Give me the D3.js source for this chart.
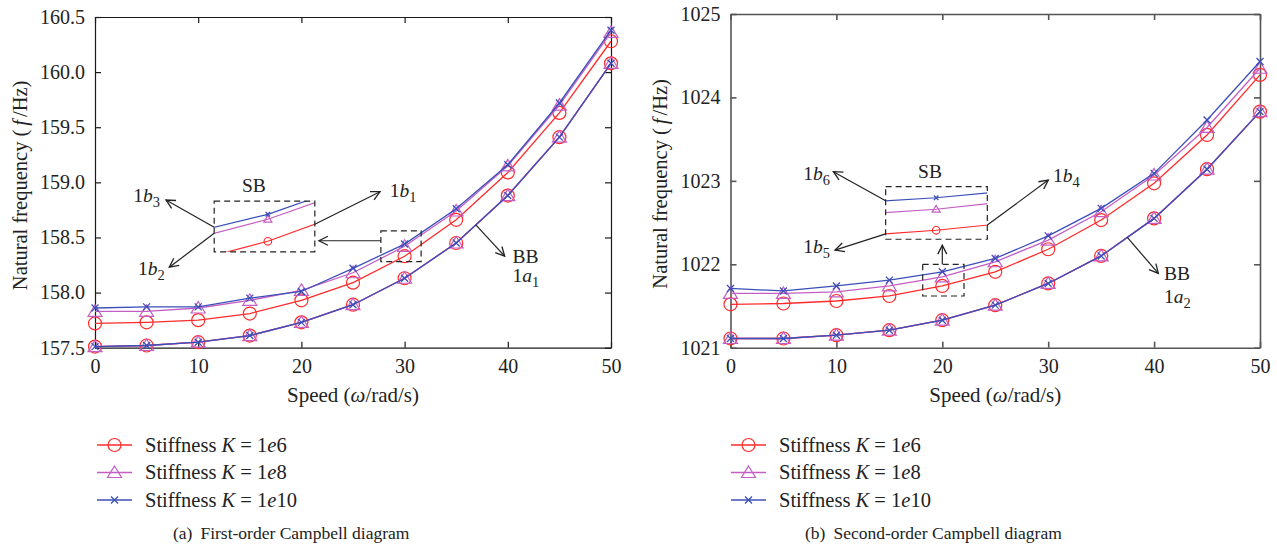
<!DOCTYPE html>
<html>
<head>
<meta charset="utf-8">
<script src="https://cdn.jsdelivr.net/npm/d3@7"></script>
<style>
body { margin: 0; background: #fff; }
svg text { font-family: "Liberation Serif", "Times New Roman", serif; fill: #222; }
</style>
</head>
<body>
<svg id="chart" width="1277" height="550"></svg>
<script>
// speed values (rad/s)
var speed = [0, 5, 10, 15, 20, 25, 30, 35, 40, 45, 50];
var xTicks = [0, 10, 20, 30, 40, 50];

// first-order: upper branch (SB, 1b) and lower branch (BB, 1a)
var first_b_k6  = [157.72, 157.73, 157.75, 157.81, 157.93, 158.09, 158.33, 158.66, 159.09, 159.63, 160.28];
var first_b_k8  = [157.83, 157.83, 157.86, 157.93, 158.02, 158.18, 158.42, 158.74, 159.15, 159.70, 160.36];
var first_b_k10 = [157.86, 157.87, 157.87, 157.95, 158.01, 158.22, 158.44, 158.76, 159.16, 159.72, 160.38];
var first_a_k6  = [157.51, 157.52, 157.55, 157.61, 157.73, 157.89, 158.13, 158.45, 158.88, 159.41, 160.08];
var first_a_k8  = [157.51, 157.52, 157.55, 157.61, 157.73, 157.89, 158.13, 158.45, 158.88, 159.41, 160.08];
var first_a_k10 = [157.51, 157.52, 157.55, 157.61, 157.73, 157.89, 158.13, 158.45, 158.88, 159.41, 160.08];
var first_yTicks = [157.5, 158.0, 158.5, 159.0, 159.5, 160.0, 160.5];

// second-order
var second_b_k6  = [1021.52, 1021.53, 1021.56, 1021.62, 1021.74, 1021.91, 1022.18, 1022.53, 1022.97, 1023.55, 1024.27];
var second_b_k8  = [1021.65, 1021.65, 1021.67, 1021.74, 1021.85, 1022.03, 1022.29, 1022.63, 1023.07, 1023.64, 1024.35];
var second_b_k10 = [1021.71, 1021.68, 1021.74, 1021.81, 1021.91, 1022.07, 1022.34, 1022.67, 1023.09, 1023.73, 1024.43];
var second_a_k6  = [1021.11, 1021.11, 1021.15, 1021.21, 1021.33, 1021.51, 1021.77, 1022.10, 1022.55, 1023.14, 1023.83];
var second_a_k8  = [1021.11, 1021.11, 1021.15, 1021.21, 1021.33, 1021.51, 1021.77, 1022.10, 1022.55, 1023.14, 1023.83];
var second_a_k10 = [1021.11, 1021.11, 1021.15, 1021.21, 1021.33, 1021.51, 1021.77, 1022.10, 1022.55, 1023.14, 1023.83];
var second_yTicks = [1021, 1022, 1023, 1024, 1025];

var stiffness = ['1e6', '1e8', '1e10'];
var colors = ['#ff2b2b', '#c45ec4', '#3b4fb8'];
var markers = ['circle', 'triangle', 'cross'];

var svg = d3.select('#chart');

// open arrow head
svg.append('defs').append('marker')
    .attr('id', 'arrow')
    .attr('viewBox', '-10 -6 12 12')
    .attr('markerUnits', 'userSpaceOnUse')
    .attr('markerWidth', 12).attr('markerHeight', 12)
    .attr('refX', 0).attr('refY', 0)
    .attr('orient', 'auto')
    .append('path')
    .attr('d', 'M-9,-4.5L0,0L-9,4.5')
    .attr('fill', 'none').attr('stroke', '#222').attr('stroke-width', 1.3);

function interp(xs, ys, xv) {
    for (var i = 0; i < xs.length - 1; i++) {
        if (xv >= xs[i] && xv <= xs[i + 1]) {
            var t = (xv - xs[i]) / (xs[i + 1] - xs[i]);
            return ys[i] + t * (ys[i + 1] - ys[i]);
        }
    }
    return ys[ys.length - 1];
}

function drawMarker(g, type, color, px, py, s) {
    if (type === 'circle') {
        g.append('circle').attr('cx', px).attr('cy', py).attr('r', 6.5 * s)
            .attr('fill', 'none').attr('stroke', color).attr('stroke-width', 1.2);
    } else if (type === 'triangle') {
        g.append('path')
            .attr('d', 'M' + px + ',' + (py - 6.5 * s) + 'L' + (px + 7 * s) + ',' + (py + 5 * s) +
                'L' + (px - 7 * s) + ',' + (py + 5 * s) + 'Z')
            .attr('fill', 'none').attr('stroke', color).attr('stroke-width', 1.2);
    } else {
        var d = 3 * s + 0.5;
        g.append('path')
            .attr('d', 'M' + (px - d) + ',' + (py - d) + 'L' + (px + d) + ',' + (py + d) +
                'M' + (px - d) + ',' + (py + d) + 'L' + (px + d) + ',' + (py - d))
            .attr('fill', 'none').attr('stroke', color).attr('stroke-width', 1.3);
    }
}

// text made of pieces: plain, italic, subscript
function richText(g, px, py, parts, anchor, size) {
    var t = g.append('text').attr('x', px).attr('y', py)
        .attr('text-anchor', anchor || 'start')
        .style('font-size', (size || 19.5) + 'px');
    parts.forEach(function(p) {
        var s = t.append('tspan').text(p.t);
        if (p.i) s.style('font-style', 'italic');
        if (p.sub) s.attr('dy', 5).style('font-size', '0.74em');
        if (p.dx) s.attr('dx', p.dx);
    });
    return t;
}

function arrow(g, x1, y1, x2, y2) {
    g.append('line').attr('x1', x1).attr('y1', y1).attr('x2', x2).attr('y2', y2)
        .attr('stroke', '#222').attr('stroke-width', 1.2)
        .attr('marker-end', 'url(#arrow)');
}

function dashBox(g, x0, y0, x1, y1) {
    g.append('rect').attr('x', x0).attr('y', y0)
        .attr('width', x1 - x0).attr('height', y1 - y0)
        .attr('fill', 'none').attr('stroke', '#222')
        .attr('stroke-width', 1.2).attr('stroke-dasharray', '6,4');
}

function panel(cfg) {
    var g = svg.append('g');
    var x = d3.scaleLinear().domain([0, 50]).range([cfg.l, cfg.r]);
    var y = d3.scaleLinear().domain(cfg.yDomain).range([cfg.b, cfg.t]);

    // axes with inward ticks on all four sides
    var axes = [
        {ax: d3.axisBottom(x).tickValues(xTicks).tickPadding(11), tr: 'translate(0,' + cfg.b + ')'},
        {ax: d3.axisTop(x).tickValues(xTicks).tickFormat(''), tr: 'translate(0,' + cfg.t + ')'},
        {ax: d3.axisLeft(y).tickValues(cfg.yTicks).tickFormat(cfg.fmt).tickPadding(10), tr: 'translate(' + cfg.l + ',0)'},
        {ax: d3.axisRight(y).tickValues(cfg.yTicks).tickFormat(''), tr: 'translate(' + cfg.r + ',0)'}
    ];
    axes.forEach(function(a) {
        var ag = g.append('g').attr('transform', a.tr)
            .call(a.ax.tickSizeInner(-6).tickSizeOuter(0));
        ag.attr('font-family', null).attr('font-size', null);
        ag.selectAll('path, line').attr('stroke', cfg.axisColor).attr('stroke-width', cfg.axisWidth);
        ag.selectAll('text').style('font-size', '20px').attr('fill', '#222');
    });

    // axis titles
    var xl = g.append('text').attr('x', (cfg.l + cfg.r) / 2).attr('y', 402)
        .attr('text-anchor', 'middle').style('font-size', '21px');
    xl.append('tspan').text('Speed (');
    xl.append('tspan').text('ω').style('font-style', 'italic');
    xl.append('tspan').text('/rad/s)');

    var yl = g.append('text')
        .attr('transform', 'translate(' + cfg.yLabelX + ',' + ((cfg.t + cfg.b) / 2 + 3) + ') rotate(-90)')
        .attr('text-anchor', 'middle').style('font-size', '20.5px');
    yl.append('tspan').text('Natural frequency (');
    yl.append('tspan').text('f').style('font-style', 'italic').attr('dx', 4);
    yl.append('tspan').text('/Hz)').attr('dx', 3);

    // curves
    var line = d3.line().x(function(d) { return x(d[0]); }).y(function(d) { return y(d[1]); });
    [cfg.lower, cfg.upper].forEach(function(branch) {
        branch.forEach(function(vals, k) {
            var pts = speed.map(function(s, i) { return [s, vals[i]]; });
            g.append('path').datum(pts).attr('d', line)
                .attr('fill', 'none').attr('stroke', colors[k]).attr('stroke-width', 1.3);
            pts.forEach(function(p) { drawMarker(g, markers[k], colors[k], x(p[0]), y(p[1]), 1); });
        });
    });

    // small dashed box around the zoomed region
    var sb = cfg.small;
    dashBox(g, x(sb.x[0]), y(sb.y[1]), x(sb.x[1]), y(sb.y[0]));

    // enlarged view (SB)
    var ib = cfg.inset;
    var bx0 = x(ib.x[0]), bx1 = x(ib.x[1]), by0 = y(ib.y[1]), by1 = y(ib.y[0]);
    var ix = d3.scaleLinear().domain(ib.dx).range([bx0, bx1]);
    var iy = d3.scaleLinear().domain(ib.dy).range([by1, by0]);
    var clipId = 'clip' + cfg.id;
    g.append('clipPath').attr('id', clipId).append('rect')
        .attr('x', bx0).attr('y', by0).attr('width', bx1 - bx0).attr('height', by1 - by0);
    var ig = g.append('g').attr('clip-path', 'url(#' + clipId + ')');
    var iline = d3.line().x(function(d) { return ix(d[0]); }).y(function(d) { return iy(d[1]); });
    cfg.upper.forEach(function(vals, k) {
        var pts = speed.map(function(s, i) { return [s, vals[i]]; });
        ig.append('path').datum(pts).attr('d', iline)
            .attr('fill', 'none').attr('stroke', colors[k]).attr('stroke-width', 1.2);
        pts.forEach(function(p) {
            if (p[0] > ib.dx[0] && p[0] < ib.dx[1])
                drawMarker(ig, markers[k], colors[k], ix(p[0]), iy(p[1]), 0.58);
        });
    });
    dashBox(g, bx0, by0, bx1, by1);

    // end points of inset curves, used by the labels
    function insetEnd(k, side) {
        var xv = ib.dx[side];
        return [side ? bx1 : bx0, iy(interp(speed, cfg.upper[k], xv))];
    }

    var an = cfg.notes;
    g.append('text').attr('x', x(an.sb[0])).attr('y', y(an.sb[1]))
        .attr('text-anchor', 'middle').style('font-size', '19.5px').text('SB');

    an.labels.forEach(function(lb) {
        var st = insetEnd(lb.k, lb.side);
        arrow(g, st[0], st[1], x(lb.tip[0]), y(lb.tip[1]));
        richText(g, x(lb.txt[0]), y(lb.txt[1]),
            [{t: '1'}, {t: 'b', i: true}, {t: lb.n, sub: true}], lb.side ? 'start' : 'end');
    });

    // arrow from small box to the enlarged view
    arrow(g, x(an.link[0][0]), y(an.link[0][1]), x(an.link[1][0]), y(an.link[1][1]));

    // BB note on the lower branch
    var bbStart = [an.bb.from, interp(speed, cfg.lower[0], an.bb.from)];
    arrow(g, x(bbStart[0]), y(bbStart[1]), x(an.bb.tip[0]), y(an.bb.tip[1]));
    g.append('text').attr('x', x(an.bb.txt[0])).attr('y', y(an.bb.txt[1]))
        .style('font-size', '19.5px').text('BB');
    richText(g, x(an.bb.txt[0]), y(an.bb.txt2),
        [{t: '1'}, {t: 'a', i: true}, {t: an.bb.n, sub: true}], 'start');

    // legend
    stiffness.forEach(function(kv, k) {
        var ly = cfg.legendY + k * 27.5;
        g.append('line').attr('x1', cfg.legendX).attr('x2', cfg.legendX + 35)
            .attr('y1', ly).attr('y2', ly)
            .attr('stroke', colors[k]).attr('stroke-width', 1.3);
        drawMarker(g, markers[k], colors[k], cfg.legendX + 17.5, ly, 1);
        var m = kv.match(/^1e(\d+)$/);
        richText(g, cfg.legendX + 48, ly + 6.5,
            [{t: 'Stiffness '}, {t: 'K', i: true}, {t: ' = 1'}, {t: 'e', i: true}, {t: m[1]}], 'start', 20.5);
    });

    // caption
    var cap = g.append('text').attr('x', cfg.captionX).attr('y', 539).style('font-size', '17.5px');
    cap.append('tspan').text(cfg.caption[0]);
    cap.append('tspan').text(cfg.caption[1]).attr('dx', 8);
}

panel({
    id: 1, l: 95, r: 611, t: 17, b: 347.7,
    yDomain: [157.5, 160.5], yTicks: first_yTicks, fmt: d3.format('.1f'),
    axisColor: '#1a1a1a', axisWidth: 1.2, yLabelX: 27,
    upper: [first_b_k6, first_b_k8, first_b_k10],
    lower: [first_a_k6, first_a_k8, first_a_k10],
    small: {x: [27.7, 31.6], y: [158.28, 158.56]},
    inset: {x: [11.55, 21.3], y: [158.37, 158.83], dx: [28.8, 31.05], dy: [158.287, 158.494]},
    notes: {
        sb: [15.4, 158.91],
        labels: [
            {k: 2, side: 0, tip: [6.88, 158.84], txt: [6.3, 158.82], n: '3'},
            {k: 1, side: 0, tip: [7.2, 158.23], txt: [6.75, 158.155], n: '2'},
            {k: 0, side: 1, tip: [27.62, 158.915], txt: [28.55, 158.87], n: '1'}
        ],
        link: [[27.7, 158.47], [21.7, 158.47]],
        bb: {from: 36.9, tip: [39.7, 158.33], txt: [40.45, 158.27], txt2: 158.1, n: '1'}
    },
    legendX: 97, legendY: 445, captionX: 173,
    caption: ['(a)', 'First-order Campbell diagram']
});

panel({
    id: 2, l: 730.5, r: 1260, t: 14, b: 347.7,
    yDomain: [1021, 1025], yTicks: second_yTicks, fmt: d3.format('d'),
    axisColor: '#555', axisWidth: 1.6, yLabelX: 667,
    upper: [second_b_k6, second_b_k8, second_b_k10],
    lower: [second_a_k6, second_a_k8, second_a_k10],
    small: {x: [18.15, 22.05], y: [1021.62, 1022.0]},
    inset: {x: [14.65, 24.25], y: [1022.30, 1022.93], dx: [19.21, 20.8], dy: [1021.693, 1021.968]},
    notes: {
        sb: [18.84, 1023.03],
        labels: [
            {k: 2, side: 0, tip: [9.71, 1023.11], txt: [9.4, 1023.01], n: '6'},
            {k: 0, side: 0, tip: [9.87, 1022.17], txt: [9.4, 1022.14], n: '5'},
            {k: 0, side: 1, tip: [30.01, 1023.01], txt: [30.46, 1022.99], n: '4'}
        ],
        link: [[20.0, 1022.0], [20.0, 1022.23]],
        bb: {from: 37.47, tip: [40.4, 1021.89], txt: [40.93, 1021.81], txt2: 1021.54, n: '2'}
    },
    legendX: 731, legendY: 445, captionX: 805,
    caption: ['(b)', 'Second-order Campbell diagram']
});
</script>
</body>
</html>
